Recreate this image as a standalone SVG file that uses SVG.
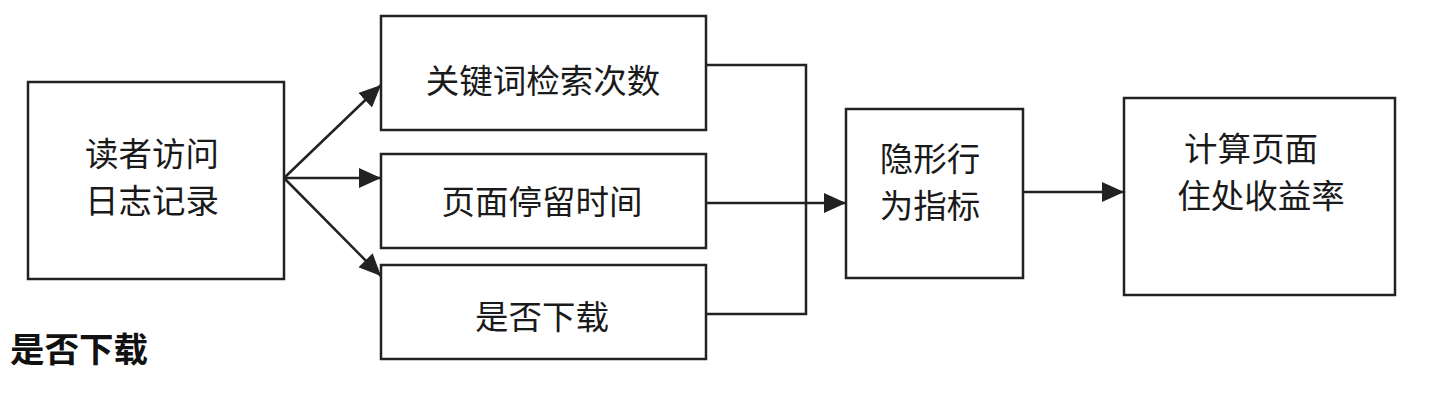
<svg xmlns="http://www.w3.org/2000/svg" width="1435" height="403" viewBox="0 0 1435 403">
<style>
.box{fill:#fff;stroke:#222;stroke-width:2.5}
.t{font-family:"Noto Sans CJK SC","Noto Sans",sans-serif;font-size:33.5px;font-weight:400;fill:#1a1a1a;text-anchor:middle;dominant-baseline:central}
.ln{fill:none;stroke:#222;stroke-width:2.5}
.lbl{font-family:"Noto Sans CJK SC",serif;font-size:34.5px;font-weight:bold;fill:#111}
</style>
<defs>
<marker id="a" viewBox="0 0 22 20" refX="22" refY="10" markerWidth="22" markerHeight="20" markerUnits="userSpaceOnUse" orient="auto">
<path d="M0,0 L22,10 L0,20 Z" fill="#222"/>
</marker>
</defs>
<g id="connectors">
<line class="ln" x1="284" y1="178" x2="381" y2="85" marker-end="url(#a)"/>
<line class="ln" x1="284" y1="178" x2="381" y2="178" marker-end="url(#a)"/>
<line class="ln" x1="284" y1="178" x2="381" y2="276" marker-end="url(#a)"/>
<polyline class="ln" points="706,65 806,65 806,314 706,314"/>
<line class="ln" x1="706" y1="203" x2="846" y2="203" marker-end="url(#a)"/>
<line class="ln" x1="1023" y1="192" x2="1124" y2="192" marker-end="url(#a)"/>
</g>
<g id="n1"><rect class="box" x="28" y="82" width="256" height="197"/><text class="t" x="152" y="151">读者访问</text><text class="t" x="152" y="198">日志记录</text></g>
<g id="n2"><rect class="box" x="381" y="16" width="325" height="114"/><text class="t" x="543" y="78">关键词检索次数</text></g>
<g id="n3"><rect class="box" x="381" y="154" width="325" height="94"/><text class="t" x="542" y="199">页面停留时间</text></g>
<g id="n4"><rect class="box" x="381" y="265" width="325" height="94"/><text class="t" x="542" y="314">是否下载</text></g>
<g id="n5"><rect class="box" x="846" y="109" width="177" height="169"/><text class="t" x="930" y="156">隐形行</text><text class="t" x="930" y="203">为指标</text></g>
<g id="n6"><rect class="box" x="1124" y="98" width="271" height="197"/><text class="t" x="1251" y="146">计算页面</text><text class="t" x="1261" y="193">住处收益率</text></g>
<text class="lbl" x="10" y="362">是否下载</text>
</svg>
